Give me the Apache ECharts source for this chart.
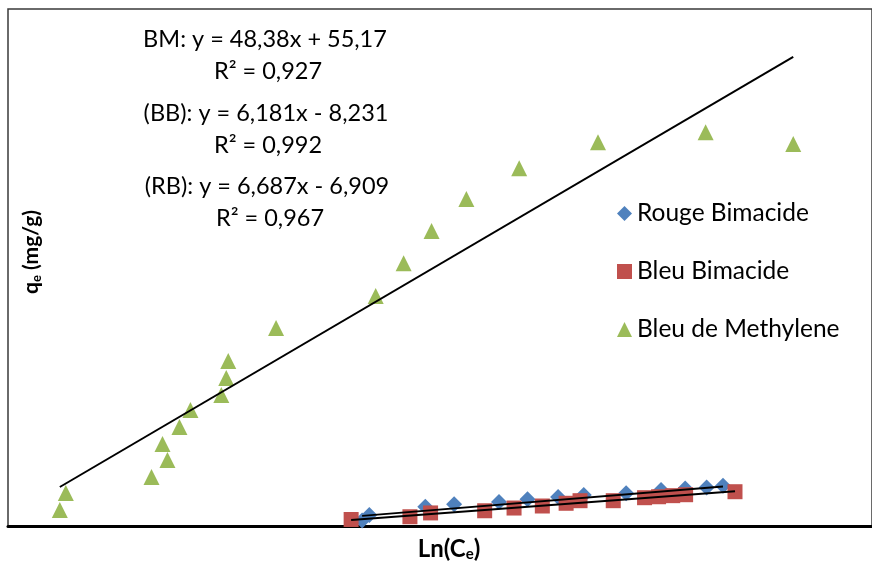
<!DOCTYPE html>
<html>
<head>
<meta charset="utf-8">
<script src="https://cdn.jsdelivr.net/npm/echarts@6/dist/echarts.min.js"></script>
<style>
  html, body { margin: 0; padding: 0; background: #ffffff; }
  #chart { width: 872px; height: 563px; }
</style>
</head>
<body>
<div id="chart"></div>
<script>
// Series names
const seriesNames = ['Rouge Bimacide', 'Bleu Bimacide', 'Bleu de Methylene'];

// Rouge Bimacide (RB): Ln(Ce) and qe (mg/g)
const rbLnCe = [2.146, 2.210, 2.709, 2.966, 3.366, 3.620, 3.893, 4.121, 4.499, 4.810, 5.025, 5.216, 5.362];
const rbQe   = [4.0, 8.1, 14.2, 16.0, 17.6, 19.6, 21.3, 22.8, 24.0, 26.5, 27.6, 28.3, 29.6];

// Bleu Bimacide (BB)
const bbLnCe = [2.048, 2.572, 2.756, 3.238, 3.500, 3.752, 3.964, 4.088, 4.384, 4.663, 4.788, 4.914, 5.029, 5.469];
const bbQe   = [4.8, 6.8, 9.6, 11.2, 13.2, 14.7, 16.7, 18.6, 18.6, 20.8, 21.5, 22.3, 23.0, 25.2];

// Bleu de Methylene (BM)
const bmLnCe = [-0.548, -0.495, 0.269, 0.367, 0.411, 0.518, 0.616, 0.891, 0.935, 0.953, 1.379, 2.267, 2.516, 2.765, 3.075, 3.546, 4.248, 5.207, 5.988];
const bmQe   = [11.8, 24.2, 36.0, 60.2, 48.5, 72.7, 85.2, 96.3, 108.7, 121.2, 145.5, 169.0, 193.2, 216.8, 240.3, 263.0, 282.1, 289.5, 280.7];

// Linear fits (Temkin): qe = slope * Ln(Ce) + intercept, order RB, BB, BM
const fitLabels     = ['(RB)', '(BB)', 'BM'];
const fitSlopes     = [6.687, 6.181, 48.38];
const fitIntercepts = [-6.909, -8.231, 55.17];
const fitR2         = [0.967, 0.992, 0.927];

// Axis ranges
const xRange = [-1.01, 6.69];
const yRange = [0, 380];

const colors = ['#4F81BD', '#C0504D', '#9BBB59'];
const symbols = ['diamond', 'rect', 'triangle'];
const FONT = 'Lato, "Open Sans", sans-serif';

const xs = [rbLnCe, bbLnCe, bmLnCe];
const ys = [rbQe, bbQe, bmQe];

function pairs(a, b) { return a.map((v, i) => [v, b[i]]); }
function fr(n, digits) {
  return n.toFixed(digits).replace('.', ',');
}
function eqText(i) {
  const s = fitSlopes[i], c = fitIntercepts[i];
  const digits = Math.abs(s) >= 10 ? 2 : 3;
  const sign = c < 0 ? ' - ' : ' + ';
  return fitLabels[i] + ': y = ' + fr(s, digits) + 'x' + sign + fr(Math.abs(c), digits);
}

const scatterSeries = seriesNames.map((name, i) => ({
  name: name,
  type: 'scatter',
  data: pairs(xs[i], ys[i]),
  symbol: symbols[i],
  symbolSize: symbols[i] === 'rect' ? 15 : 16,
  itemStyle: { color: colors[i], opacity: 1 },
  z: 2 + i
}));

const trendSeries = seriesNames.map((name, i) => {
  const x0 = Math.min(...xs[i]), x1 = Math.max(...xs[i]);
  return {
    name: name + ' (tendance)',
    type: 'line',
    data: [[x0, fitSlopes[i] * x0 + fitIntercepts[i]], [x1, fitSlopes[i] * x1 + fitIntercepts[i]]],
    symbol: 'none',
    lineStyle: { color: '#000000', width: 2 },
    silent: true,
    z: 10
  };
});

// Equation block positions (text centres), order BM, BB, RB
const eqOrder = [2, 1, 0];
const eqCenters = [[265, 39], [266, 113], [267, 186]];
const r2Centers = [[268, 71], [268, 145], [270, 218]];

const eqGraphics = [];
eqOrder.forEach((idx, k) => {
  eqGraphics.push({
    type: 'text', x: eqCenters[k][0], y: eqCenters[k][1],
    style: { text: eqText(idx), font: '23.5px ' + FONT, fill: '#000', textAlign: 'center', textVerticalAlign: 'middle' }
  });
  eqGraphics.push({
    type: 'text', x: r2Centers[k][0], y: r2Centers[k][1],
    style: { text: 'R\u00B2 = ' + fr(fitR2[idx], 3), font: '23.5px ' + FONT, fill: '#000', textAlign: 'center', textVerticalAlign: 'middle' }
  });
});

const chart = echarts.init(document.getElementById('chart'), null, { renderer: 'canvas' });
chart.setOption({
  animation: false,
  backgroundColor: '#ffffff',
  grid: {
    left: 8, top: 9, right: -3, bottom: 37,
    show: true, borderColor: '#3a3a3a', borderWidth: 1.5, backgroundColor: 'transparent'
  },
  xAxis: {
    type: 'value', min: xRange[0], max: xRange[1],
    axisLine: { show: true, onZero: false, lineStyle: { color: '#000', width: 3 } },
    axisTick: { show: false }, axisLabel: { show: false }, splitLine: { show: false }
  },
  yAxis: {
    type: 'value', min: yRange[0], max: yRange[1],
    axisLine: { show: false }, axisTick: { show: false }, axisLabel: { show: false }, splitLine: { show: false }
  },
  legend: {
    data: seriesNames.map((n, i) => ({ name: n, icon: symbols[i] })),
    orient: 'vertical',
    left: 612, top: 196,
    itemWidth: 15, itemHeight: 15,
    itemGap: 33,
    textStyle: { fontFamily: FONT, fontSize: 24.5, color: '#000', padding: [0, 0, 0, 0] },
    selectedMode: false
  },
  series: scatterSeries.concat(trendSeries),
  graphic: eqGraphics.concat([
    {
      type: 'text', x: 449, y: 549,
      style: {
        text: '{a|Ln(C}{s|e}{a|)}',
        textAlign: 'center', textVerticalAlign: 'middle',
        rich: {
          a: { fontFamily: FONT, fontWeight: 'bold', fontSize: 24, color: '#000', lineHeight: 26, verticalAlign: 'middle' },
          s: { fontFamily: FONT, fontWeight: 'bold', fontSize: 15, color: '#000', lineHeight: 26, verticalAlign: 'bottom', padding: [9, 0, 0, 0] }
        }
      }
    },
    {
      type: 'text', x: 31, y: 252, rotation: Math.PI / 2,
      style: {
        text: '{a|q}{s|e}{a| (mg/g)}',
        textAlign: 'center', textVerticalAlign: 'middle',
        rich: {
          a: { fontFamily: FONT, fontWeight: 'bold', fontSize: 21, color: '#000', lineHeight: 24, verticalAlign: 'middle' },
          s: { fontFamily: FONT, fontWeight: 'bold', fontSize: 13, color: '#000', lineHeight: 24, verticalAlign: 'bottom', padding: [8, 0, 0, 0] }
        }
      }
    }
  ])
});
</script>
</body>
</html>
